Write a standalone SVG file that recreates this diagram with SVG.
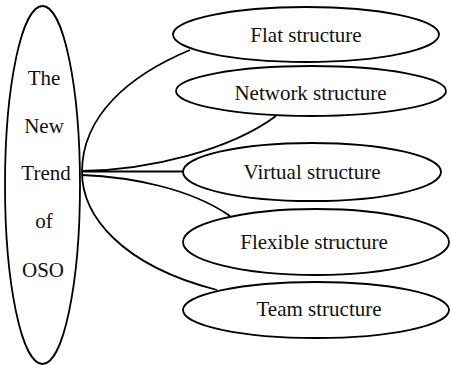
<svg xmlns="http://www.w3.org/2000/svg" width="451" height="365" viewBox="0 0 451 365">
<style>
.e{fill:#fff;stroke:#000;stroke-width:1.8}
.c{fill:none;stroke:#000;stroke-width:1.8}
text{font-size:21px;fill:#111;text-anchor:middle}
</style>
<rect width="451" height="365" fill="#fff"/>
<g id="connectors">
<path class="c" d="M190,50 C130,75 82,115 82,172"/>
<path class="c" d="M82,172 C82,215 120,265 217,290"/>
<path class="c" d="M82,171 C150,170 230,150 276,116"/>
<path class="c" d="M82,171.5 L184,171.5"/>
<path class="c" d="M82,175 C130,177 190,188 230,216"/>
</g>
<g font-family="'Liberation Serif', 'DejaVu Serif', 'Times New Roman', serif">
<g id="trend">
<ellipse class="e" cx="42.5" cy="185" rx="37.5" ry="179"/>
<text x="44" y="85">The</text>
<text x="44" y="133">New</text>
<text x="46" y="180">Trend</text>
<text x="44" y="228">of</text>
<text x="43" y="277">OSO</text>
</g>
<g id="flat">
<ellipse class="e" cx="306" cy="34.5" rx="133" ry="27.5"/>
<text x="306" y="42">Flat structure</text>
</g>
<g id="network">
<ellipse class="e" cx="311" cy="91" rx="135" ry="25"/>
<text x="310.5" y="100">Network structure</text>
</g>
<g id="virtual">
<ellipse class="e" cx="312" cy="172" rx="129" ry="29"/>
<text x="312" y="179">Virtual structure</text>
</g>
<g id="flexible">
<ellipse class="e" cx="316" cy="242" rx="133" ry="33"/>
<text x="314" y="249">Flexible structure</text>
</g>
<g id="team">
<ellipse class="e" cx="316" cy="310" rx="133" ry="28"/>
<text x="319" y="316">Team structure</text>
</g>
</g>
</svg>
